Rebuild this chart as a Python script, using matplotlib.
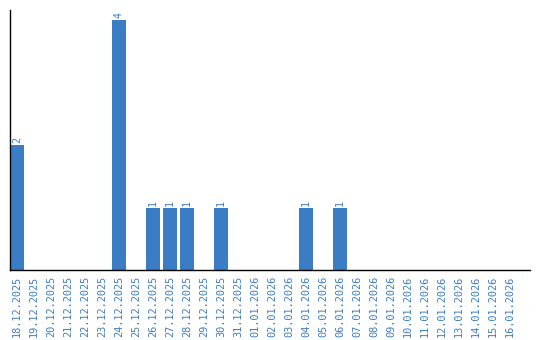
import matplotlib
matplotlib.use("Agg")
from matplotlib import pyplot as plt

dates = [
    "18.12.2025", "19.12.2025", "20.12.2025", "21.12.2025", "22.12.2025",
    "23.12.2025", "24.12.2025", "25.12.2025", "26.12.2025", "27.12.2025",
    "28.12.2025", "29.12.2025", "30.12.2025", "31.12.2025", "01.01.2026",
    "02.01.2026", "03.01.2026", "04.01.2026", "05.01.2026", "06.01.2026",
    "07.01.2026", "08.01.2026", "09.01.2026", "10.01.2026", "11.01.2026",
    "12.01.2026", "13.01.2026", "14.01.2026", "15.01.2026", "16.01.2026",
]
counts = [2, 0, 0, 0, 0, 0, 4, 0, 1, 1, 1, 0, 1, 0, 0,
          0, 0, 1, 0, 1, 0, 0, 0, 0, 0, 0, 0, 0, 0, 0]

BLUE = "#3b7dc4"
plt.rcParams["font.family"] = "DejaVu Sans Mono"

fig = plt.figure(figsize=(5.4, 3.4), dpi=100)
ax = fig.add_axes([10 / 540, 70 / 340, 520 / 540, 260 / 340])

x = list(range(len(dates)))
ax.bar(x, counts, width=14 / 17, color=BLUE)

for xi, c in zip(x, counts):
    if c > 0:
        ax.text(xi, c + 0.03, str(c), rotation=90, ha="center", va="bottom",
                color=BLUE, fontsize=7.2)

ax.set_xlim(-7 / 17, 30.18)
ax.set_ylim(0, 4.16)
ax.set_xticks(x)
ax.set_xticklabels(dates, rotation=90, color=BLUE, fontsize=7.4)
ax.tick_params(axis="x", length=0, pad=4)
ax.set_yticks([])

for side in ["top", "right"]:
    ax.spines[side].set_visible(False)
for side in ["left", "bottom"]:
    ax.spines[side].set_linewidth(1.0)
    ax.spines[side].set_color("black")

fig.savefig("out.png", dpi=100)
